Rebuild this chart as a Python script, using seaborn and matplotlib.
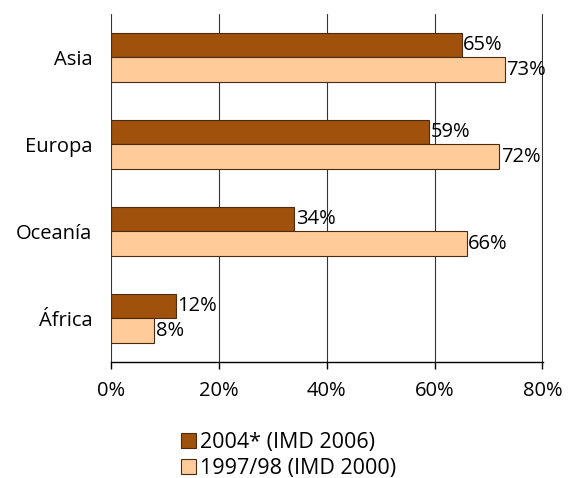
import pandas as pd
import matplotlib.pyplot as plt
import seaborn as sns

regions = ['Asia', 'Europa', 'Oceanía', 'África']
series_names = ['2004* (IMD 2006)', '1997/98 (IMD 2000)']
values_2004 = [65, 59, 34, 12]
values_1997 = [73, 72, 66, 8]
x_ticks = [0, 20, 40, 60, 80]

df = pd.DataFrame({
    'region': regions * 2,
    'serie': [series_names[0]] * 4 + [series_names[1]] * 4,
    'valor': values_2004 + values_1997,
})

sns.set_style('white')
plt.rcParams['font.family'] = ['Open Sans', 'DejaVu Sans']
plt.rcParams['font.size'] = 14.5
plt.rcParams['text.color'] = 'black'
plt.rcParams['xtick.color'] = 'black'
plt.rcParams['ytick.color'] = 'black'

fig = plt.figure(figsize=(5.7, 4.78), dpi=100)
ax = fig.add_axes([0.195, 0.243, 0.758, 0.728])

palette = {series_names[0]: '#A0520C', series_names[1]: '#FFCC99'}
sns.barplot(data=df, y='region', x='valor', hue='serie', orient='h', palette=palette,
            order=regions, hue_order=series_names, width=0.56, saturation=1,
            edgecolor='#4A2A10', linewidth=0.8, ax=ax, zorder=3)

for cont in ax.containers:
    ax.bar_label(cont, labels=[f'{int(v)}%' for v in cont.datavalues], padding=1,
                 fontsize=14.5, color='black')

ax.set_xlim(0, 80.15)
ax.set_xticks(x_ticks)
ax.set_xticklabels([f'{t}%' for t in x_ticks])
ax.grid(axis='x', color='#333333', linewidth=0.8, zorder=0)
ax.grid(axis='y', visible=False)
ax.set_xlabel('')
ax.set_ylabel('')
for s in ['top', 'right', 'left']:
    ax.spines[s].set_visible(False)
ax.spines['bottom'].set_color('black')
ax.spines['bottom'].set_linewidth(1)
ax.tick_params(axis='x', bottom=True, length=5, width=1, pad=9, labelsize=14.5)
ax.tick_params(axis='y', left=False, pad=10, labelsize=14.5)

ax.legend(loc='upper center', bbox_to_anchor=(0.41, -0.145), frameon=False,
          handlelength=0.7, handleheight=0.7, handletextpad=0.2, labelspacing=0.25,
          fontsize=15.5)

fig.savefig('out.png', dpi=100)
